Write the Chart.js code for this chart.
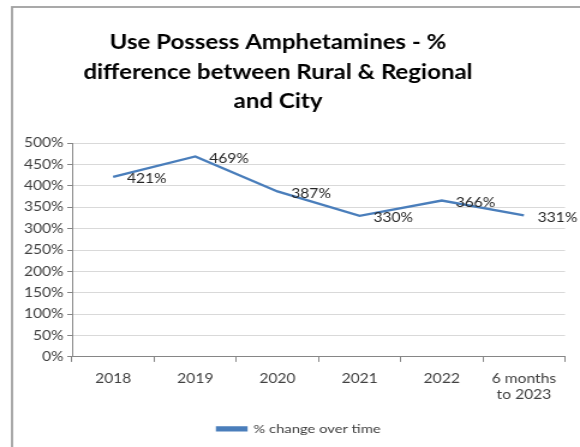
<!DOCTYPE html>
<html>
<head>
<meta charset="utf-8">
<script src="https://cdn.jsdelivr.net/npm/chart.js@4"></script>
<style>
  html, body { margin: 0; padding: 0; background: #ffffff; }
  #wrap { position: relative; width: 580px; height: 447px; overflow: hidden; }
  /* the drawing surface is widened horizontally for the stretched look of the layout */
  #chart { display: block; width: 580px; height: 447px; }
</style>
</head>
<body>
<div id="wrap"><canvas id="chart" width="483" height="447" style="width:580px;height:447px"></canvas></div>
<script>
// Categories, series values and axis ticks
const categories = ['2018', '2019', '2020', '2021', '2022', ['6 months', 'to 2023']];
const changeOverTime = [421, 469, 387, 330, 366, 331];
const yTicks = { min: 0, max: 500, step: 50 };
const seriesName = '% change over time';
const titleLines = ['Use Possess Amphetamines - %', 'difference between Rural & Regional', 'and City'];

const FONT = 'Lato, "Open Sans", sans-serif';
const LINE_BLUE = '#4a7ebb';

// Grey frame around the chart object
const framePlugin = {
  id: 'frame',
  beforeDraw(chart) {
    const ctx = chart.ctx;
    ctx.save();
    ctx.strokeStyle = '#a0a0a0';
    ctx.lineWidth = 1.8;
    ctx.strokeRect(10, 7, 700, 600);
    ctx.restore();
  }
};

// Value labels to the right of each point
const valueLabels = {
  id: 'valueLabels',
  afterDatasetsDraw(chart) {
    const ctx = chart.ctx;
    const meta = chart.getDatasetMeta(0);
    const data = chart.data.datasets[0].data;
    ctx.save();
    ctx.font = '13px ' + FONT;
    ctx.fillStyle = '#262626';
    ctx.textAlign = 'left';
    ctx.textBaseline = 'middle';
    meta.data.forEach((pt, i) => {
      ctx.fillText(data[i] + '%', pt.x + 11.5, pt.y + 2);
    });
    ctx.restore();
  }
};

// Centre the title and the legend on their own horizontal midpoints
const blockPlacement = {
  id: 'blockPlacement',
  afterLayout(chart) {
    const place = (box, centre, half) => {
      if (!box) return;
      box.left = centre - half;
      box.right = centre + half;
      box.width = half * 2;
    };
    place(chart.titleBlock, 231.5, 220);
    place(chart.legend, 249, 200);
  }
};

new Chart(document.getElementById('chart'), {
  type: 'line',
  data: {
    labels: categories,
    datasets: [{
      label: seriesName,
      data: changeOverTime,
      borderColor: LINE_BLUE,
      backgroundColor: LINE_BLUE,
      borderWidth: 2.4,
      pointRadius: 0,
      pointHoverRadius: 0,
      tension: 0,
      fill: false
    }]
  },
  options: {
    responsive: false,
    devicePixelRatio: 1,
    animation: false,
    events: [],
    layout: { padding: { left: 0, right: 12.5, top: 0, bottom: 2 } },
    plugins: {
      title: {
        display: true,
        text: titleLines,
        color: '#000000',
        font: { family: FONT, size: 20, weight: 'bold', lineHeight: 1.47 },
        padding: { top: 28, bottom: 27 }
      },
      legend: {
        display: true,
        position: 'bottom',
        labels: {
          color: '#404040',
          font: { family: FONT, size: 12.3 },
          boxWidth: 24,
          boxHeight: 3,
          padding: 10
        }
      },
      tooltip: { enabled: false }
    },
    scales: {
      x: {
        type: 'category',
        offset: true,
        grid: {
          offset: true,
          drawOnChartArea: false,
          drawTicks: true,
          tickLength: 5,
          color: '#868686'
        },
        border: { display: true, color: '#868686', width: 1 },
        ticks: {
          color: '#404040',
          font: { family: FONT, size: 13, lineHeight: 1.3 },
          padding: 8,
          maxRotation: 0,
          autoSkip: false
        },
        afterFit(scale) { scale.height += 1; }
      },
      y: {
        min: yTicks.min,
        max: yTicks.max,
        grid: {
          color: '#d9d9d9',
          drawTicks: true,
          tickLength: 4,
          tickColor: '#868686'
        },
        border: { display: true, color: '#868686', width: 1 },
        ticks: {
          stepSize: yTicks.step,
          color: '#404040',
          font: { family: FONT, size: 13 },
          padding: 3,
          callback: (v) => v + '%'
        },
        afterFit(scale) { scale.width = 60; }
      }
    }
  },
  plugins: [framePlugin, valueLabels, blockPlacement]
});
</script>
</body>
</html>
